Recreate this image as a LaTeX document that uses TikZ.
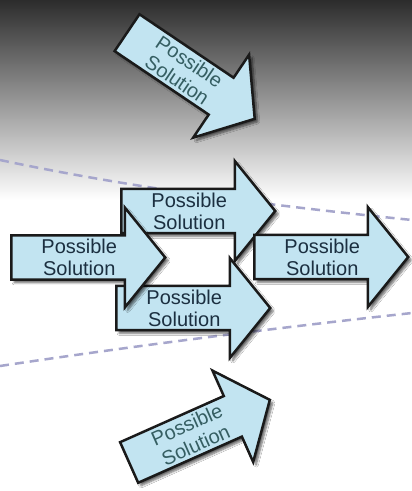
\documentclass[tikz,border=0pt]{standalone}
\usepackage{fontspec}
\setmainfont{Liberation Sans}
\usetikzlibrary{shapes.arrows}
\usetikzlibrary{shadows.blur}

\definecolor{bgtop}{HTML}{2C2C2C}
\definecolor{arrowfill}{HTML}{C2E4F1}
\definecolor{arrowline}{HTML}{1A1A1A}
\definecolor{soltext}{HTML}{1B2F40}
\definecolor{tilttext}{HTML}{355E62}
\definecolor{conecol}{HTML}{A6A6CC}

\begin{document}
\begin{tikzpicture}
    [x=1pt, y=1pt,
     sol/.style={single arrow, draw=arrowline, fill=arrowfill, line width=2.5pt,
       minimum height=154pt, minimum width=100pt, single arrow head extend=24.5pt,
       single arrow tip angle=102, inner sep=0pt, align=center, text=soltext,
       font=\fontsize{20}{22}\selectfont, anchor=tail,
       blur shadow={shadow xshift=3pt, shadow yshift=-3pt, shadow opacity=60, shadow blur steps=6}},
     tilt/.style={sol, text=tilttext},
     cone/.style={draw=conecol, line width=2.5pt, dash pattern=on 9pt off 6pt}]

    \useasboundingbox (0,0) rectangle (412,491);
    \fill [white] (0,0) rectangle (412,491);
    \shade [top color=bgtop, bottom color=white] (0,291) rectangle (412,491);

    % dashed cone
    \coordinate (up0) at (0,331);
    \coordinate (up1) at (412,271);
    \coordinate (lo0) at (0,125);
    \coordinate (lo1) at (412,178);
    \draw [cone] (up0) .. controls (137,302) and (275,285) .. (up1);
    \draw [cone] (lo0) .. controls (137,145.5) and (275,163) .. (lo1);

    \node [sol] (sol1) at (120,280) {Possible\\Solution};
    \node [sol] (sol2) at (115,183) {Possible\\Solution};
    \node [sol] (sol0) at (10,233.5) {Possible\\Solution};
    \node [sol] (sol3) at (253,234) {Possible\\Solution};

    \node [tilt, rotate=-34] (sol4) at (126,459) {Possible\\Solution};
    \node [tilt, rotate=24] (sol5) at (128,28) {Possible\\Solution};
\end{tikzpicture}
\end{document}
